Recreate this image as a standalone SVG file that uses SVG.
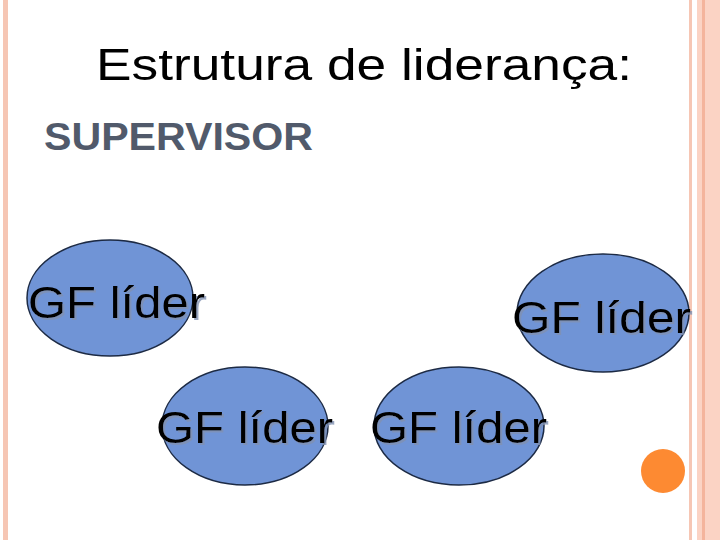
<svg xmlns="http://www.w3.org/2000/svg" width="720" height="540" viewBox="0 0 720 540">
<defs><filter id="sh" x="-10%" y="-10%" width="130%" height="130%"><feDropShadow dx="2" dy="2" stdDeviation="0.5" flood-color="#8090b0" flood-opacity="0.8"/></filter></defs>
<style>
.n{fill:#7094d6;stroke:#1c2a44;stroke-width:1.5}
.t{font-family:"Liberation Sans",Arial,sans-serif;font-size:44px;fill:#000;filter:url(#sh)}
</style>
<rect width="720" height="540" fill="#fff"/>
<rect x="3" y="0" width="5" height="540" fill="#f6c6b4"/>
<rect x="689" y="0" width="3" height="540" fill="#f6c6b4"/>
<rect x="697" y="0" width="23" height="540" fill="#fbd3c4"/>
<rect x="702" y="0" width="3" height="540" fill="#f4b49c"/>
<text x="96" y="80" font-family="'Liberation Sans',Arial,sans-serif" font-size="44" textLength="536" lengthAdjust="spacingAndGlyphs" fill="#000">Estrutura de liderança:</text>
<text x="44" y="150" font-family="'Liberation Sans',Arial,sans-serif" font-size="38" font-weight="bold" textLength="269" lengthAdjust="spacingAndGlyphs" fill="#515a6b">SUPERVISOR</text>
<g id="n1"><ellipse class="n" cx="110" cy="298" rx="83" ry="58"/><text class="t" x="28" y="318" textLength="177" lengthAdjust="spacingAndGlyphs">GF líder</text></g>
<g id="n2"><ellipse class="n" cx="603" cy="313" rx="86" ry="59"/><text class="t" x="512" y="333" textLength="179" lengthAdjust="spacingAndGlyphs">GF líder</text></g>
<g id="n3"><ellipse class="n" cx="245" cy="426" rx="83" ry="59"/><text class="t" x="156" y="443" textLength="177" lengthAdjust="spacingAndGlyphs">GF líder</text></g>
<g id="n4"><ellipse class="n" cx="459" cy="426" rx="85" ry="59"/><text class="t" x="370" y="443" textLength="177" lengthAdjust="spacingAndGlyphs">GF líder</text></g>
<circle cx="663" cy="471" r="22" fill="#fd8a32"/>
<g id="connectors"/>
</svg>
